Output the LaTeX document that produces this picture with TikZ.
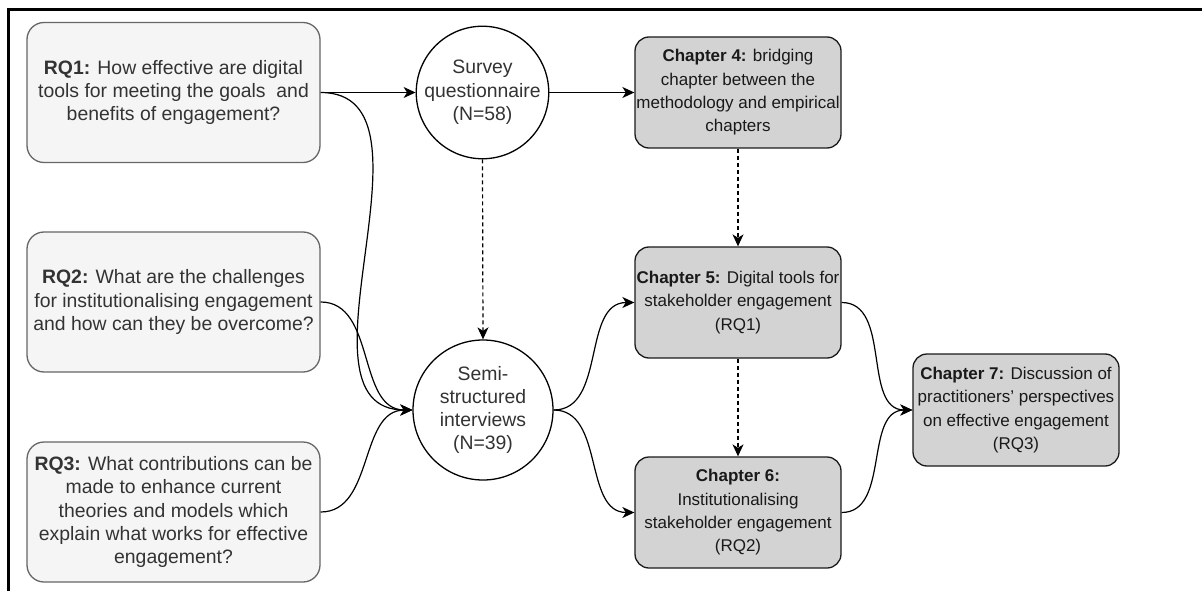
\documentclass[tikz,border=0pt]{standalone}
\usepackage{fontspec}
\setmainfont{Liberation Sans}
\usetikzlibrary{arrows.meta}
\definecolor{rqfill}{HTML}{F5F5F5}
\definecolor{rqline}{HTML}{666666}
\definecolor{rqtext}{HTML}{333333}
\definecolor{chfill}{HTML}{D3D3D3}
\definecolor{chline}{HTML}{1A1A1A}
\begin{document}
\begin{tikzpicture}[x=1pt,y=-1pt,
  every node/.style={align=center, inner sep=0pt},
  bigtext/.style={font=\fontsize{19.4}{23.3}\selectfont},
  smalltext/.style={font=\fontsize{17}{23.3}\selectfont},
  rqbox/.style={bigtext, draw=rqline, fill=rqfill, text=rqtext, line width=1.3pt, rounded corners=17pt,
    minimum width=293pt, minimum height=140pt},
  chbox/.style={smalltext, draw=chline, fill=chfill, text=black!90, line width=1.3pt, rounded corners=14pt,
    minimum width=206pt, minimum height=111pt},
  method/.style={bigtext, circle, draw=black, fill=white, text=rqtext, line width=1.3pt},
  link/.style={line width=1.2pt, -{Stealth[length=12pt,width=11pt,inset=3.5pt]}},
  dlink/.style={link, dash pattern=on 4pt off 3pt}]
  \useasboundingbox (0,0) rectangle (1202,591);
  % frame edges
  \draw[line width=3pt] (1202,9.5) -- (8.5,9.5) -- (8.5,591);

  % research questions
  \node[rqbox] (rq1) at (173.5,92.5) {\textbf{RQ1:} How effective are digital\\tools for meeting the goals\ \ and\\benefits of engagement?};
  \node[rqbox] (rq2) at (173.5,302) {\textbf{RQ2:} What are the challenges\\for institutionalising engagement\\and how can they be overcome?};
  \node[rqbox] (rq3) at (173.5,512) {\textbf{RQ3:} What contributions can be\\made to enhance current\\theories and models which\\explain what works for effective\\engagement?};

  % methods
  \node[method, minimum size=127pt] (survey) at (482.5,92.5) {Survey\\questionnaire\\(N=58)};
  \node[method, minimum size=140pt] (semi) at (483,410) {Semi-\\structured\\interviews\\(N=39)};

  % chapters
  \node[chbox] (ch4) at (738,92.5) {\textbf{Chapter 4:} bridging\\chapter between the\\methodology and empirical\\chapters};
  \node[chbox] (ch5) at (738,302.5) {\textbf{Chapter 5:} Digital tools for\\stakeholder engagement\\(RQ1)};
  \node[chbox] (ch6) at (738,512.5) {\textbf{Chapter 6:}\\Institutionalising\\stakeholder engagement\\(RQ2)};
  \node[chbox, minimum height=112pt] (ch7) at (1016,410) {\textbf{Chapter 7:} Discussion of\\practitioners' perspectives\\on effective engagement\\(RQ3)};

  % connectors
  \draw[link] (rq1.east) -- (survey.west);
  \draw[link] (survey.east) -- (ch4.west);
  \draw[link] (rq1.east) to[out=0,in=180] (semi.west);
  \draw[link] (rq2.east) to[out=0,in=180] (semi.west);
  \draw[link] (rq3.east) to[out=0,in=180] (semi.west);
  \draw[dlink] (survey.south) -- (semi.north);
  \draw[link] (semi.east) to[out=0,in=180] (ch5.west);
  \draw[link] (semi.east) to[out=0,in=180] (ch6.west);
  \draw[dlink] (ch4.south) -- (ch5.north);
  \draw[dlink] (ch5.south) -- (ch6.north);
  \draw[link] (ch5.east) to[out=0,in=180] (ch7.west);
  \draw[link] (ch6.east) to[out=0,in=180] (ch7.west);
\end{tikzpicture}
\end{document}
